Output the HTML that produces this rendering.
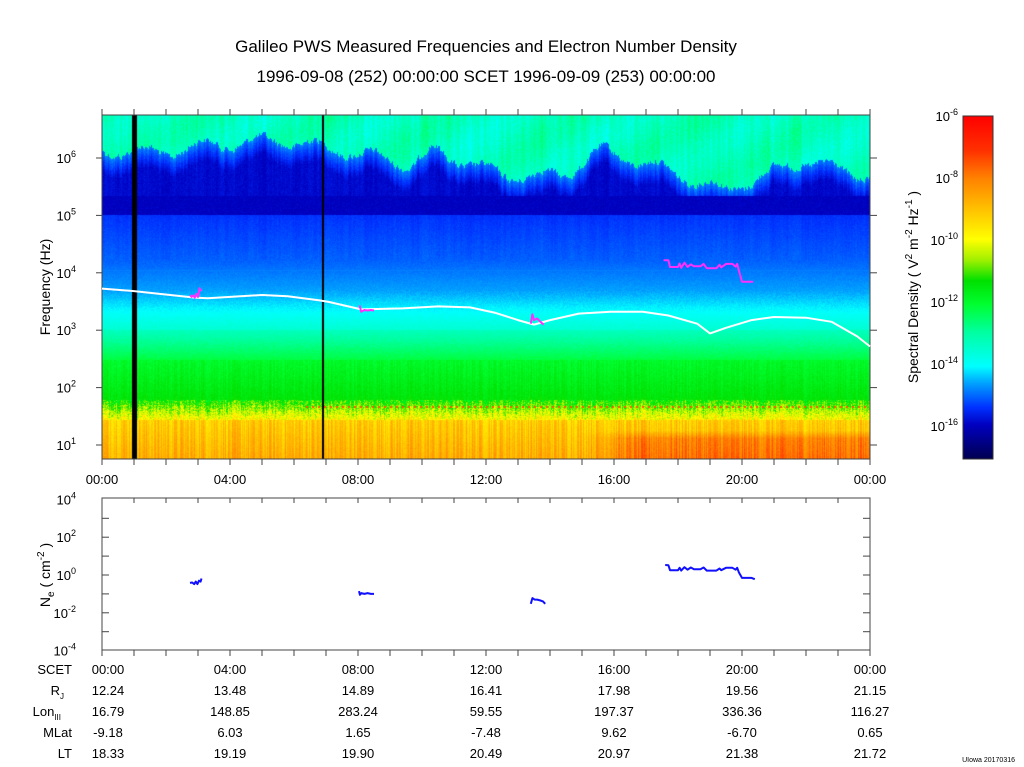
<!DOCTYPE html>
<html><head><meta charset="utf-8"><style>
html,body{margin:0;padding:0;background:#fff;}
#wrap{position:relative;width:1024px;height:767px;overflow:hidden;font-family:"Liberation Sans",sans-serif;}
#spec{position:absolute;left:102px;top:115px;}
#ov{position:absolute;left:0;top:0;}
</style></head><body>
<div id="wrap">
<canvas id="spec" width="768" height="344"></canvas>
<svg id="ov" width="1024" height="767" xmlns="http://www.w3.org/2000/svg" font-family="Liberation Sans, sans-serif">
<defs>
<linearGradient id="cbg" x1="0" y1="0" x2="0" y2="1">
<stop offset="0" stop-color="#ff0000"/><stop offset="0.1" stop-color="#ff3000"/><stop offset="0.18" stop-color="#ff8000"/><stop offset="0.27" stop-color="#ffc000"/><stop offset="0.36" stop-color="#ffff00"/><stop offset="0.42" stop-color="#a0f000"/><stop offset="0.48" stop-color="#00e000"/><stop offset="0.55" stop-color="#00ff30"/><stop offset="0.63" stop-color="#00ffa0"/><stop offset="0.73" stop-color="#00ffff"/><stop offset="0.78" stop-color="#00a0ff"/><stop offset="0.85" stop-color="#0030ff"/><stop offset="0.9" stop-color="#0000c0"/><stop offset="1" stop-color="#000050"/>
</linearGradient>
</defs>
<text x="486" y="52" font-size="17" text-anchor="middle">Galileo PWS Measured Frequencies and Electron Number Density</text>
<text x="486" y="82" font-size="17" text-anchor="middle">1996-09-08 (252) 00:00:00 SCET 1996-09-09 (253) 00:00:00</text>
<g id="g-top"></g>
<g id="g-bot"></g>
<rect x="963" y="116" width="30" height="343" fill="url(#cbg)" stroke="#333" stroke-width="1"/>
<g id="g-cb"></g>
<text transform="translate(918,287) rotate(-90)" font-size="14" text-anchor="middle">Spectral Density ( V<tspan font-size="10" dy="-6">2</tspan><tspan dy="6"> m</tspan><tspan font-size="10" dy="-6">-2</tspan><tspan dy="6"> Hz</tspan><tspan font-size="10" dy="-6">-1</tspan><tspan dy="6"> )</tspan></text>
<text transform="translate(50,287) rotate(-90)" font-size="14" text-anchor="middle">Frequency (Hz)</text>
<text transform="translate(50,575) rotate(-90)" font-size="14" text-anchor="middle">N<tspan font-size="10" dy="4">e</tspan><tspan dy="-4"> ( cm</tspan><tspan font-size="10" dy="-6">-2</tspan><tspan dy="6"> )</tspan></text>
<g id="g-table"></g>
<text x="1015" y="762" font-size="7" text-anchor="end">UIowa 20170316</text>
</svg>
</div>
<script>
// ---- data ----
const plasmaHours=[0,1,2.9,3.3,5.0,5.8,6.8,7.1,8.1,9.4,10.5,11.5,12.3,13.0,13.5,14.0,14.9,15.9,16.9,17.7,18.6,19.0,19.5,20.3,21.0,22.0,22.8,23.6,24];
const plasmaHz=[5300,4800,3700,3600,4100,3900,3300,3100,2300,2400,2600,2500,2000,1500,1250,1500,1950,2100,2100,1800,1300,880,1100,1500,1700,1650,1400,780,520];
const mag1Hours=[2.75,2.8,2.85,2.9,2.95,3.0,3.05,3.1];
const mag1Hz=[4100,3800,4000,3700,4300,3800,5400,4800];
const mag2Hours=[8.05,8.1,8.2,8.3,8.4,8.5];
const mag2Hz=[2700,2100,2250,2200,2250,2200];
const mag3Hours=[13.4,13.45,13.5,13.6,13.7,13.8];
const mag3Hz=[1300,1900,1500,1600,1400,1250];
const mag4Hours=[17.55,17.7,17.75,18.0,18.05,18.1,18.2,18.3,18.4,18.5,18.7,18.8,18.9,19.0,19.2,19.3,19.35,19.5,19.7,19.8,19.85,19.9,20.0,20.35];
const mag4Hz=[16600,16600,12600,12600,14500,12200,15000,12600,14000,13000,13000,14300,12000,12000,12000,13800,12400,14300,14300,12800,14300,11000,7000,7000];
const ne1Hours=[2.75,2.82,2.88,2.93,2.98,3.03,3.08,3.11];
const ne1=[0.38,0.4,0.33,0.45,0.33,0.5,0.45,0.65];
const ne2Hours=[8.03,8.06,8.1,8.2,8.3,8.4,8.5];
const ne2=[0.14,0.09,0.11,0.1,0.11,0.1,0.1];
const ne3Hours=[13.4,13.45,13.52,13.6,13.7,13.78,13.85];
const ne3=[0.03,0.06,0.05,0.05,0.045,0.04,0.03];
const ne4Hours=[17.6,17.7,17.75,18.0,18.05,18.1,18.2,18.3,18.4,18.5,18.7,18.8,18.9,19.0,19.2,19.3,19.35,19.5,19.7,19.8,19.85,19.9,20.0,20.3,20.4];
const ne4=[3.4,3.3,1.8,1.8,2.4,1.7,2.6,1.9,2.5,2.0,2.0,2.5,1.7,1.7,1.7,2.2,1.8,2.4,2.4,1.9,2.4,1.4,0.7,0.7,0.6];
const timeTicks=["00:00","04:00","08:00","12:00","16:00","20:00","00:00"];
const freqExps=[6,5,4,3,2,1];
const neExps=[4,2,0,-2,-4];
const cbExps=[-6,-8,-10,-12,-14,-16];
const rowLabels=["SCET","R","Lon","MLat","LT"];
const rowSubs=["","J","III","",""];
const rjVals=["12.24","13.48","14.89","16.41","17.98","19.56","21.15"];
const lonVals=["16.79","148.85","283.24","59.55","197.37","336.36","116.27"];
const mlatVals=["-9.18","6.03","1.65","-7.48","9.62","-6.70","0.65"];
const ltVals=["18.33","19.19","19.90","20.49","20.97","21.38","21.72"];

// ---- axes ----
const X0=102,X1=870,PT=115,PB=459,BT=498,BB=650;
function xH(h){return X0+h*(X1-X0)/24;}
function yF(f){return 158+(6-Math.log10(f))*57.4;}
function yN(n){return 575-Math.log10(n)*18.9;}
function yCB(e){return 116+(-6-e)*31;}
const NS='http://www.w3.org/2000/svg';
function mk(tag,attrs,parent){const e=document.createElementNS(NS,tag);for(const k in attrs)e.setAttribute(k,attrs[k]);parent.appendChild(e);return e;}

// ---- spectrogram texture ----
(function(){
 const c=document.getElementById('spec'),ctx=c.getContext('2d');
 const W=768,H=344,img=ctx.createImageData(W,H);
 let s=12345;function rnd(){s=(s*1103515245+12345)&0x7fffffff;return s/0x7fffffff;}
 const stops=[[0,0,0,80],[0.1,0,0,192],[0.15,0,48,255],[0.22,0,160,255],[0.27,0,255,255],[0.37,0,255,160],[0.45,0,255,48],[0.52,0,224,0],[0.58,160,240,0],[0.64,255,255,0],[0.73,255,192,0],[0.82,255,128,0],[0.9,255,48,0],[1,255,0,0]];
 function cmap(v){v=Math.max(0,Math.min(1,v));for(let i=1;i<stops.length;i++){if(v<=stops[i][0]){const a=stops[i-1],b=stops[i],t=(v-a[0])/(b[0]-a[0]);return [a[1]+t*(b[1]-a[1]),a[2]+t*(b[2]-a[2]),a[3]+t*(b[3]-a[3])];}}return [255,0,0];}
 const bnd=[[0,150],[60,152],[100,145],[180,140],[240,150],[290,160],[310,165],[330,150],[400,175],[460,175],[500,150],[560,168],[620,190],[650,180],[700,160],[760,175],[768,175]];
 function boundary(x){for(let i=1;i<bnd.length;i++){if(x<=bnd[i][0]){const a=bnd[i-1],b=bnd[i];return a[1]+(x-a[0])/(b[0]-a[0])*(b[1]-a[1]);}}return 175;}
 const colN=[];let prev=0.5;for(let x=0;x<W;x++){prev=0.6*prev+0.4*rnd();colN.push(prev);}
 const colF=[];for(let x=0;x<W;x++)colF.push(rnd());
 for(let x=0;x<W;x++){
  const b=boundary(x)+Math.sin(x*0.11)*6+(colN[x]-0.5)*14;
  const cn=colN[x],cf=colF[x];
  for(let y=0;y<H;y++){
   const Y=y+PT;let v;const r=rnd();
   if(Y<b){v=0.34+(r-0.5)*0.04+(cn-0.5)*0.1+Math.sin(x*0.05+Y*0.08)*0.02;}
   else if(Y<215){const t=Math.min(1,(Y-b)/20);v=0.2-0.09*t+(r-0.5)*0.02+(cn-0.5)*0.03; if(Y>195)v=0.1+(r-0.5)*0.02;}
   else if(Y<260){v=0.15+(Y-215)/45*0.03+(r-0.5)*0.015+(cn-0.5)*0.02;}
   else if(Y<290){v=0.18+(Y-260)/30*0.04+(r-0.5)*0.015; if(Math.abs(Y-270)<1)v=0.2;}
   else if(Y<330){v=0.22+(Y-290)/40*0.1+(r-0.5)*0.02;}
   else if(Y<360){v=0.34+(Y-330)/30*0.1+(r-0.5)*0.025;}
   else if(Y<400){v=0.46+(Y-360)/40*0.05+(r-0.5)*0.03+(cf-0.5)*0.03;}
   else if(Y<420){v=0.52+(Y-400)/20*0.14+(r-0.5)*0.1+(cf-0.5)*0.08;}
   else {v=0.71+(Y-420)/39*0.05+(r-0.5)*0.03+(cf-0.5)*0.09; if(x>480&&Y>430)v+=0.08*Math.min(1,(x-480)/60)*Math.min(1,(Y-430)/8);}
   if(Y>=406&&Y<=407&&(x%6<2)&&x>200)v=0.86;
   const col=cmap(v),i=(y*W+x)*4;img.data[i]=col[0];img.data[i+1]=col[1];img.data[i+2]=col[2];img.data[i+3]=255;
  }
 }
 ctx.putImageData(img,0,0);
 ctx.fillStyle='#000';ctx.fillRect(132-X0,0,5,H);ctx.fillRect(322-X0,0,2,H);
})();

// ---- top panel overlay ----
const gt=document.getElementById('g-top');
mk('rect',{x:X0,y:PT,width:X1-X0,height:PB-PT,fill:'none',stroke:'#444','stroke-width':1},gt);
for(let h=0;h<=24;h++){const x=xH(h);
 mk('line',{x1:x,y1:PT,x2:x,y2:PT-6,stroke:'#444'},gt);
 mk('line',{x1:x,y1:PB,x2:x,y2:PB+6,stroke:'#444'},gt);
 mk('line',{x1:x,y1:BT,x2:x,y2:BT+5,stroke:'#444'},gt);
 mk('line',{x1:x,y1:BB,x2:x,y2:BB+6,stroke:'#444'},gt);}
timeTicks.forEach((lab,i)=>{const t=mk('text',{x:xH(i*4),y:484,'font-size':13,'text-anchor':'middle'},gt);t.textContent=lab;
 
 });
freqExps.forEach(e=>{const y=yF(Math.pow(10,e));
 mk('line',{x1:X0-6,y1:y,x2:X0,y2:y,stroke:'#444'},gt);mk('line',{x1:X1,y1:y,x2:X1+7,y2:y,stroke:'#444'},gt);
 const t=mk('text',{x:X0-26,y:y+5,'font-size':13,'text-anchor':'end'},gt);t.textContent='10';
 const s=mk('tspan',{'font-size':9,dy:-6},t);s.textContent=String(e);
 
 });
function poly(hs,vs,yfn,color,w,parent,name){const pts=hs.map((h,i)=>xH(h).toFixed(1)+','+yfn(vs[i]).toFixed(1)).join(' ');
 const p=mk('polyline',{points:pts,fill:'none',stroke:color,'stroke-width':w,'stroke-linejoin':'round'},parent);
 
 }
poly(plasmaHours,plasmaHz,yF,'#ffffff',2,gt,'plasma-frequency-line');
poly(mag1Hours,mag1Hz,yF,'#ff30ff',2,gt,'measured-frequency-segment-1');
poly(mag2Hours,mag2Hz,yF,'#ff30ff',2,gt,'measured-frequency-segment-2');
poly(mag3Hours,mag3Hz,yF,'#ff30ff',2,gt,'measured-frequency-segment-3');
poly(mag4Hours,mag4Hz,yF,'#ff30ff',2,gt,'measured-frequency-segment-4');

// ---- bottom panel ----
const gb=document.getElementById('g-bot');
mk('rect',{x:X0,y:BT,width:X1-X0,height:BB-BT,fill:'none',stroke:'#444','stroke-width':1},gb);
for(let e=-3;e<=3;e++){const y=yN(Math.pow(10,e));mk('line',{x1:X0,y1:y,x2:X0+7,y2:y,stroke:'#444'},gb);mk('line',{x1:X1-7,y1:y,x2:X1,y2:y,stroke:'#444'},gb);}
neExps.forEach(e=>{const y=yN(Math.pow(10,e));
 const t=mk('text',{x:X0-26,y:y+5,'font-size':13,'text-anchor':'end'},gb);t.textContent='10';
 const s=mk('tspan',{'font-size':9,dy:-6},t);s.textContent=String(e);
 
 });
poly(ne1Hours,ne1,yN,'#1010ff',2,gb,'density-segment-1');
poly(ne2Hours,ne2,yN,'#1010ff',2,gb,'density-segment-2');
poly(ne3Hours,ne3,yN,'#1010ff',2,gb,'density-segment-3');
poly(ne4Hours,ne4,yN,'#1010ff',2,gb,'density-segment-4');

// ---- colorbar labels ----
const gc=document.getElementById('g-cb');
cbExps.forEach(e=>{const y=yCB(e);
 const t=mk('text',{x:958,y:y+5,'font-size':13,'text-anchor':'end'},gc);t.textContent='10';
 const s=mk('tspan',{'font-size':9,dy:-6},t);s.textContent=String(e);
 
 });

// ---- table ----
const gtab=document.getElementById('g-table');
const rowsY=[674,695,716,737,758];
const rows=[timeTicks,rjVals,lonVals,mlatVals,ltVals];
rows.forEach((vals,r)=>{
 const l=mk('text',{x:rowSubs[r]?(r===2?61:64):72,y:rowsY[r],'font-size':13,'text-anchor':'end'},gtab);l.textContent=rowLabels[r];
 
 
 if(rowSubs[r]){const s=mk('tspan',{'font-size':8,dy:4},l);s.textContent=rowSubs[r];}
 vals.forEach((v,i)=>{const x=i===0?108:xH(i*4);
  const t=mk('text',{x:x,y:rowsY[r],'font-size':13,'text-anchor':'middle'},gtab);t.textContent=v;
  
  });
});
</script>
</body></html>
